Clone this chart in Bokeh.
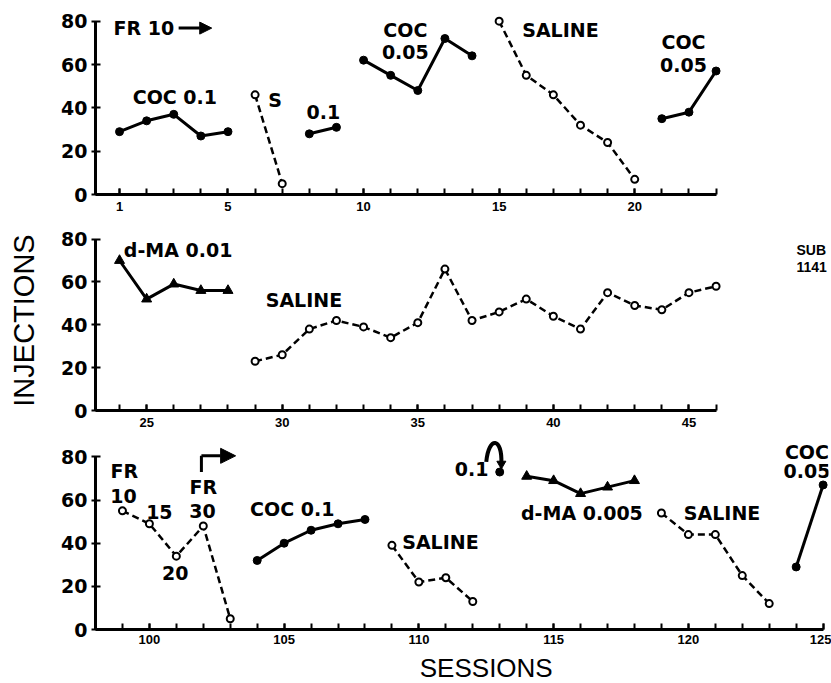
from bokeh.plotting import figure
from bokeh.layouts import column
from bokeh.models import Range1d, FixedTicker, Label, Arrow, NormalHead, LinearAxis
from bokeh.embed import file_html
from bokeh.resources import INLINE

FONT = "DejaVu Sans"
TFONT = "Liberation Sans"

# ---------------- data ----------------
# panel 1 (sessions 1-23)
p1_coc01_s = [1, 2, 3, 4, 5];           p1_coc01_v = [29, 34, 37, 27, 29]
p1_sal_a_s = [6, 7];                    p1_sal_a_v = [46, 5]
p1_coc01b_s = [8, 9];                   p1_coc01b_v = [28, 31]
p1_coc005_s = [10, 11, 12, 13, 14];     p1_coc005_v = [62, 55, 48, 72, 64]
p1_sal_b_s = [15, 16, 17, 18, 19, 20];  p1_sal_b_v = [80, 55, 46, 32, 24, 7]
p1_coc005b_s = [21, 22, 23];            p1_coc005b_v = [35, 38, 57]
p1_ticks = [1, 5, 10, 15, 20]

# panel 2 (sessions 24-46)
p2_dma_s = [24, 25, 26, 27, 28];        p2_dma_v = [70, 52, 59, 56, 56]
p2_sal_s = list(range(29, 47))
p2_sal_v = [23, 26, 38, 42, 39, 34, 41, 66, 42, 46, 52, 44, 38, 55, 49, 47, 55, 58]
p2_ticks = [25, 30, 35, 40, 45]

# panel 3 (sessions 99-125)
p3_fr_s = [99, 100, 101, 102, 103];     p3_fr_v = [55, 49, 34, 48, 5]
p3_coc01_s = [104, 105, 106, 107, 108]; p3_coc01_v = [32, 40, 46, 49, 51]
p3_sal_a_s = [109, 110, 111, 112];      p3_sal_a_v = [39, 22, 24, 13]
p3_coc01b_s = [113];                    p3_coc01b_v = [73]
p3_dma_s = [114, 115, 116, 117, 118];   p3_dma_v = [71, 69, 63, 66, 69]
p3_sal_b_s = [119, 120, 121, 122, 123]; p3_sal_b_v = [54, 44, 44, 25, 12]
p3_coc005_s = [124, 125];               p3_coc005_v = [29, 67]
p3_ticks = [100, 105, 110, 115, 120, 125]

y_ticks = [0, 20, 40, 60, 80]


def make_panel(xr, yr, fw, fh, bl, bt, bb, br, xmax, xticks, minor, xstand=7):
    p = figure(x_range=Range1d(*xr), y_range=Range1d(*yr),
               frame_width=fw, frame_height=fh,
               min_border_left=bl, min_border_top=bt, min_border_bottom=bb,
               min_border_right=br, output_backend="svg", toolbar_location=None)
    p.outline_line_color = None
    p.grid.visible = False
    p.background_fill_color = "white"
    p.border_fill_color = "white"
    xa = p.xaxis[0]
    xa.ticker = FixedTicker(ticks=xticks, minor_ticks=minor)
    xa.bounds = (xr[0], xmax)
    xa.axis_line_width = 3
    xa.axis_line_color = "black"
    xa.major_tick_in = 6
    xa.major_tick_out = 0
    xa.minor_tick_in = 6
    xa.minor_tick_out = 0
    xa.major_tick_line_width = 2
    xa.minor_tick_line_width = 2
    xa.major_tick_line_color = "black"
    xa.minor_tick_line_color = "black"
    xa.major_label_text_font = TFONT
    xa.major_label_text_font_style = "bold"
    xa.major_label_text_font_size = "13px"
    xa.major_label_text_color = "black"
    xa.major_label_standoff = xstand
    ya = p.yaxis[0]
    ya.ticker = FixedTicker(ticks=y_ticks)
    ya.bounds = (0, 80)
    ya.axis_line_width = 3
    ya.axis_line_color = "black"
    ya.major_tick_in = 5
    ya.major_tick_out = 4
    ya.major_tick_line_width = 2
    ya.major_tick_line_color = "black"
    ya.minor_tick_line_color = None
    ya.major_label_text_font = FONT
    ya.major_label_text_font_style = "bold"
    ya.major_label_text_font_size = "19px"
    ya.major_label_text_color = "black"
    ya.major_label_standoff = 4
    return p


def solid(p, s, v, marker="circle", size=8):
    p.line(s, v, line_color="black", line_width=3)
    p.scatter(s, v, marker=marker, size=size, fill_color="black", line_color="black")


def dashed(p, s, v):
    p.line(s, v, line_color="black", line_width=2.5, line_dash="7 4")
    p.scatter(s, v, marker="circle", size=7, fill_color="white",
              line_color="black", line_width=2)


def txt(p, x, y, t, size="19px", align="center"):
    p.add_layout(Label(x=x, y=y, text=t, text_font=FONT, text_font_size=size,
                       text_font_style="bold", text_align=align,
                       text_baseline="middle", text_color="black"))


# ---------------- panel 1 ----------------
p1 = make_panel((0.114, 23.2), (0, 84), 626, 182, 95, 12, 25, 100, 23,
                p1_ticks, list(range(1, 24)))
solid(p1, p1_coc01_s, p1_coc01_v)
dashed(p1, p1_sal_a_s, p1_sal_a_v)
solid(p1, p1_coc01b_s, p1_coc01b_v)
solid(p1, p1_coc005_s, p1_coc005_v)
dashed(p1, p1_sal_b_s, p1_sal_b_v)
solid(p1, p1_coc005b_s, p1_coc005b_v)
txt(p1, 0.78, 76.7, "FR 10", align="left")
p1.add_layout(Arrow(end=NormalHead(size=12, fill_color="black", line_color="black"),
                    x_start=3.18, y_start=76.8, x_end=4.4, y_end=76.8,
                    line_width=3, line_color="black"))
txt(p1, 3.04, 44.8, "COC 0.1")
txt(p1, 6.74, 43.4, "S")
txt(p1, 8.52, 37.9, "0.1")
txt(p1, 11.54, 76, "COC")
txt(p1, 11.54, 66, "0.05")
txt(p1, 17.26, 75.7, "SALINE")
txt(p1, 21.8, 70.2, "COC")
txt(p1, 21.8, 59.6, "0.05")

# ---------------- panel 2 ----------------
p2 = make_panel((23.114, 46.2), (0, 84), 626, 180, 95, 11, 25, 100, 46,
                p2_ticks, list(range(24, 47)))
solid(p2, p2_dma_s, p2_dma_v, marker="triangle", size=10)
dashed(p2, p2_sal_s, p2_sal_v)
txt(p2, 26.16, 74.8, "d-MA 0.01")
txt(p2, 30.8, 51.4, "SALINE")
p2.yaxis[0].axis_label = "INJECTIONS"
p2.yaxis[0].axis_label_text_font = TFONT
p2.yaxis[0].axis_label_text_font_style = "normal"
p2.yaxis[0].axis_label_text_font_size = "29px"
p2.yaxis[0].axis_label_text_color = "black"
p2.yaxis[0].axis_label_standoff = 18
sub_axis = LinearAxis(ticker=FixedTicker(ticks=[75, 67]),
                      major_label_overrides={75: "SUB", 67: "1141"},
                      axis_line_color=None, major_tick_line_color=None,
                      minor_tick_line_color=None, major_label_standoff=69,
                      major_label_text_font=TFONT, major_label_text_font_style="bold",
                      major_label_text_font_size="14px", major_label_text_color="black")
p2.add_layout(sub_axis, "right")

# ---------------- panel 3 ----------------
p3 = make_panel((98.0, 125.2), (0, 89), 733, 192, 92, 2, 48, 6, 125,
                p3_ticks, list(range(99, 126)), xstand=5)
dashed(p3, p3_fr_s, p3_fr_v)
solid(p3, p3_coc01_s, p3_coc01_v)
dashed(p3, p3_sal_a_s, p3_sal_a_v)
solid(p3, p3_coc01b_s, p3_coc01b_v)
solid(p3, p3_dma_s, p3_dma_v, marker="triangle", size=10)
dashed(p3, p3_sal_b_s, p3_sal_b_v)
solid(p3, p3_coc005_s, p3_coc005_v)
txt(p3, 99.07, 73.6, "FR")
txt(p3, 99.04, 62, "10")
txt(p3, 100.37, 54.6, "15")
txt(p3, 100.96, 26, "20")
txt(p3, 102.0, 66, "FR")
txt(p3, 101.97, 55, "30")
p3.line([101.93, 101.93], [73, 80.5], line_color="black", line_width=3)
p3.add_layout(Arrow(end=NormalHead(size=15, fill_color="black", line_color="black"),
                    x_start=101.93, y_start=80.5, x_end=103.2, y_end=80.5,
                    line_width=3, line_color="black"))
txt(p3, 105.3, 56, "COC 0.1")
txt(p3, 110.8, 40.7, "SALINE")
txt(p3, 111.96, 74.5, "0.1")
p3.bezier(x0=[112.5], y0=[77.7], x1=[113.06], y1=[77], cx0=[112.6], cy0=[90],
          cx1=[113.1], cy1=[89], line_color="black", line_width=4)
p3.scatter([113.06], [76.8], marker="inverted_triangle", size=9,
           fill_color="black", line_color="black")
txt(p3, 116.05, 54, "d-MA 0.005")
txt(p3, 121.25, 54, "SALINE")
txt(p3, 124.4, 82.4, "COC")
txt(p3, 124.4, 73.6, "0.05")
sess_axis = LinearAxis(ticker=FixedTicker(ticks=[112.5]),
                       major_label_overrides={112.5: "SESSIONS"},
                       axis_line_color=None, major_tick_line_color=None,
                       minor_tick_line_color=None, major_label_standoff=0,
                       major_label_text_font=TFONT, major_label_text_font_style="normal",
                       major_label_text_font_size="26px", major_label_text_color="black")
p3.add_layout(sess_axis, "below")

layout = column(p1, p2, p3)
open("out.html", "w").write(file_html(layout, INLINE))
